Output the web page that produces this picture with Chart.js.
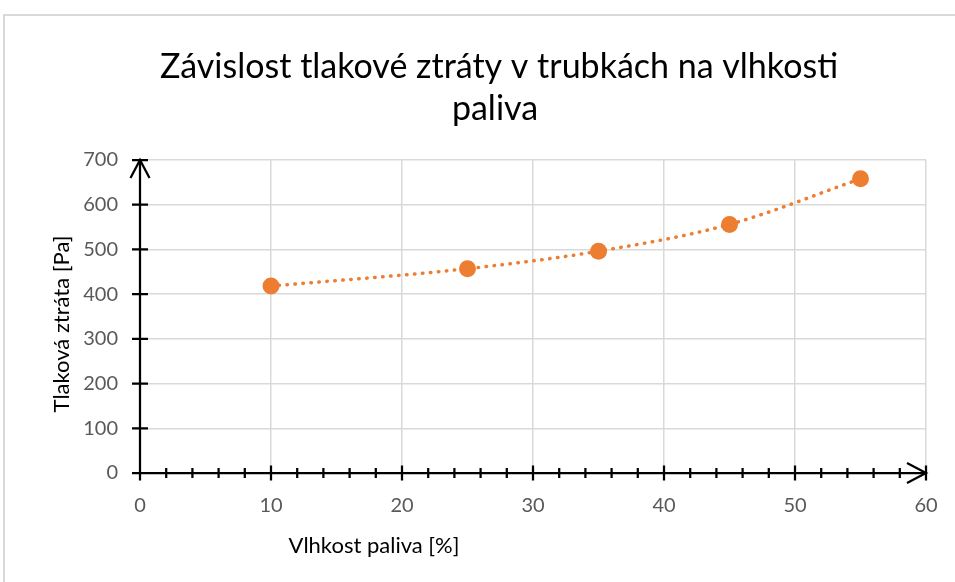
<!DOCTYPE html>
<html>
<head>
<meta charset="utf-8">
<script src="https://cdn.jsdelivr.net/npm/chart.js@4/dist/chart.umd.min.js"></script>
<style>
  html, body { margin: 0; padding: 0; background: #fff; }
  #wrap { width: 955px; height: 582px; position: relative; }
</style>
</head>
<body>
<div id="wrap"><canvas id="chart"></canvas></div>
<script>
// Data
const moisture = [10, 25, 35, 45, 55];          // Vlhkost paliva [%]
const pressureLoss = [418, 457, 496, 556, 658]; // Tlaková ztráta [Pa]

const titleLines = ['Závislost tlakové ztráty v trubkách na vlhkosti', 'paliva'];
const xTitle = 'Vlhkost paliva [%]';
const yTitle = 'Tlaková ztráta [Pa]';

const ORANGE = '#ED7D31';
const GRID = '#d9d9d9';
const FONT = 'Lato, "Open Sans", sans-serif';

const points = moisture.map((x, i) => ({ x: x, y: pressureLoss[i] }));

// Axes with arrows, tick marks, titles and frame (Excel look)
const decor = {
    id: 'decor',
    beforeDraw(chart) {
        const ctx = chart.ctx;
        ctx.save();
        ctx.fillStyle = '#fff';
        ctx.fillRect(0, 0, chart.width, chart.height);
        ctx.strokeStyle = GRID;
        ctx.lineWidth = 2;
        ctx.beginPath();
        ctx.moveTo(4, chart.height);
        ctx.lineTo(4, 15);
        ctx.lineTo(chart.width, 15);
        ctx.stroke();
        ctx.restore();
    },
    beforeDatasetsDraw(chart) {
        const ctx = chart.ctx;
        const xs = chart.scales.x;
        const ys = chart.scales.y;
        const x0 = xs.getPixelForValue(0);
        const y0 = ys.getPixelForValue(0);
        const xEnd = xs.getPixelForValue(xs.max);
        const yEnd = ys.getPixelForValue(ys.max);
        ctx.save();
        ctx.strokeStyle = '#000';
        ctx.lineWidth = 2.25;
        ctx.beginPath();
        // x axis
        ctx.moveTo(x0, y0);
        ctx.lineTo(xEnd, y0);
        // y axis
        ctx.moveTo(x0, y0);
        ctx.lineTo(x0, yEnd);
        // x major + minor ticks
        for (let v = xs.min; v <= xs.max; v += 2) {
            const px = xs.getPixelForValue(v);
            const len = v % 10 === 0 ? 7.5 : 5;
            ctx.moveTo(px, y0 - len);
            ctx.lineTo(px, y0 + len);
        }
        // y major ticks
        ys.ticks.forEach(t => {
            const py = ys.getPixelForValue(t.value);
            ctx.moveTo(x0 - 8, py);
            ctx.lineTo(x0 + 8, py);
        });
        ctx.stroke();
        // arrow heads
        ctx.beginPath();
        ctx.moveTo(xEnd - 19, y0 - 10);
        ctx.lineTo(xEnd, y0);
        ctx.lineTo(xEnd - 19, y0 + 10);
        ctx.moveTo(x0 - 9.5, yEnd + 18);
        ctx.lineTo(x0, yEnd);
        ctx.lineTo(x0 + 9.5, yEnd + 18);
        ctx.stroke();
        ctx.restore();
    },
    afterDraw(chart) {
        const ctx = chart.ctx;
        ctx.save();
        ctx.fillStyle = '#000';
        ctx.textAlign = 'center';
        ctx.textBaseline = 'alphabetic';
        ctx.font = '34px ' + FONT;
        ctx.fillText(titleLines[0], 499, 78);
        ctx.fillText(titleLines[1], 495, 120);

        ctx.font = '22px ' + FONT;
        ctx.textBaseline = 'middle';
        ctx.fillText(xTitle, 374, 546);

        ctx.translate(62, 324);
        ctx.rotate(-Math.PI / 2);
        ctx.fillText(yTitle, 0, 0);
        ctx.restore();
    }
};

new Chart(document.getElementById('chart'), {
    type: 'scatter',
    data: {
        datasets: [
            {
                label: 'Tlaková ztráta',
                data: points,
                showLine: false,
                pointRadius: 8.5,
                pointHoverRadius: 8.5,
                pointBackgroundColor: ORANGE,
                pointBorderColor: ORANGE,
                pointBorderWidth: 0
            },
            {
                label: 'Trend',
                data: points,
                showLine: true,
                pointRadius: 0,
                borderColor: ORANGE,
                borderWidth: 3.5,
                borderDash: [0.5, 7.5],
                borderCapStyle: 'round',
                cubicInterpolationMode: 'monotone',
                fill: false
            }
        ]
    },
    options: {
        responsive: true,
        maintainAspectRatio: false,
        animation: false,
        layout: { padding: { top: 160, right: 29, bottom: 0, left: 0 } },
        plugins: {
            legend: { display: false },
            tooltip: { enabled: false }
        },
        scales: {
            x: {
                type: 'linear',
                min: 0,
                max: 60,
                ticks: { stepSize: 10, color: '#595959', font: { family: FONT, size: 20 }, padding: 21 },
                grid: { color: GRID, lineWidth: 1.5, drawTicks: false },
                border: { display: false },
                afterFit(scale) {
                    scale.height = 109;
                    scale.paddingLeft = 0;
                    scale.paddingRight = 0;
                }
            },
            y: {
                type: 'linear',
                min: 0,
                max: 700,
                ticks: { stepSize: 100, color: '#595959', font: { family: FONT, size: 20 }, padding: 22 },
                grid: { color: GRID, lineWidth: 1.5, drawTicks: false },
                border: { display: false },
                afterFit(scale) {
                    scale.width = 140;
                    scale.paddingTop = 0;
                    scale.paddingBottom = 0;
                }
            }
        }
    },
    plugins: [decor]
});
</script>
</body>
</html>
